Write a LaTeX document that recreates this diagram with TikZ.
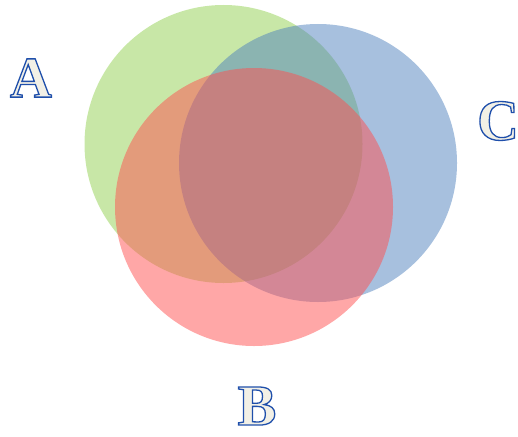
\documentclass[tikz,border=0pt]{standalone}
\usepackage{fontspec}
\setmainfont{Liberation Serif}
\definecolor{vgreen}{RGB}{146,208,80}
\definecolor{vblue}{RGB}{79,129,189}
\definecolor{vred}{RGB}{255,80,80}
\definecolor{cream}{RGB}{242,240,230}
\newcommand{\outlet}[1]{\textcolor{cream}{\special{pdf:literal direct 2 Tr 1.3 w 0.12 0.31 0.67 RG}#1\special{pdf:literal direct 0 Tr 1 w}}}
\tikzset{
  setcirc/.style={circle, minimum size=278pt, inner sep=0pt, fill opacity=0.5},
  setlabel/.style={font=\fontsize{58}{62}\selectfont\bfseries, inner sep=0pt}
}
\begin{document}
\begin{tikzpicture}[x=1pt,y=-1pt]
\useasboundingbox (0,0) rectangle (518,436);
\node[setcirc, fill=vgreen] (ga) at (223.5,144) {};
\node[setcirc, fill=vblue] (gc) at (318,163) {};
\node[setcirc, fill=vred] (gb) at (254,207) {};
\node[setlabel] (la) at (31,78) {\outlet{A}};
\node[setlabel] (lc) at (498,121) {\outlet{C}};
\node[setlabel] (lb) at (257,406) {\outlet{B}};
\end{tikzpicture}
\end{document}
